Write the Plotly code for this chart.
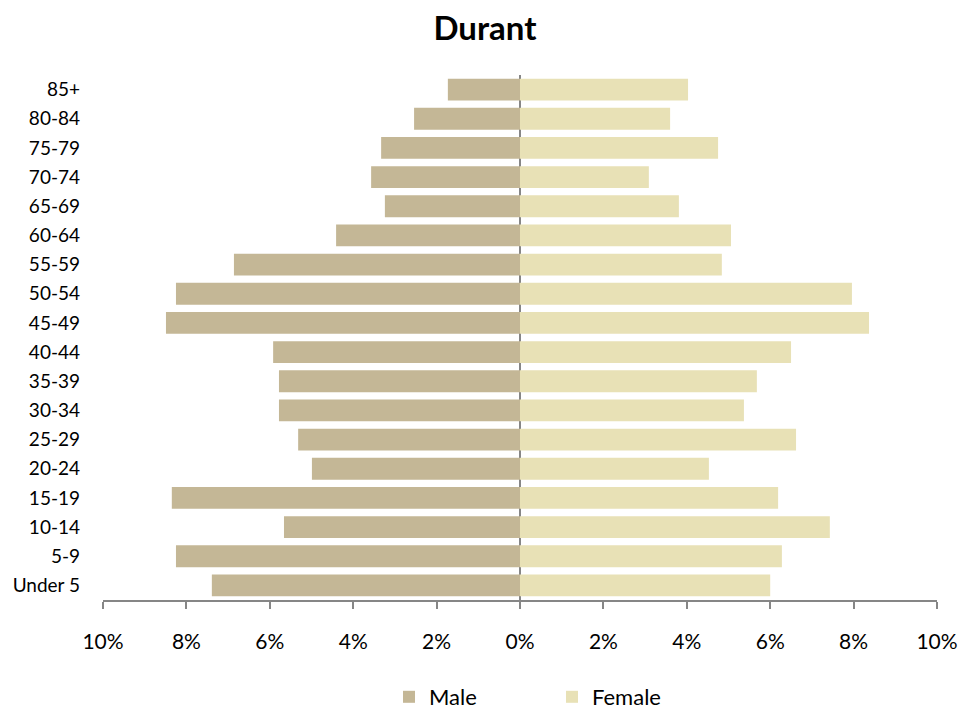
import plotly.graph_objects as go

age_groups = ["Under 5", "5-9", "10-14", "15-19", "20-24", "25-29", "30-34", "35-39",
              "40-44", "45-49", "50-54", "55-59", "60-64", "65-69", "70-74", "75-79",
              "80-84", "85+"]
male_pct = [7.39, 8.25, 5.66, 8.35, 4.99, 5.32, 5.78, 5.78, 5.92, 8.49, 8.25, 6.86,
            4.41, 3.24, 3.57, 3.33, 2.54, 1.73]
female_pct = [6.00, 6.28, 7.43, 6.19, 4.53, 6.62, 5.37, 5.68, 6.50, 8.37, 7.96, 4.84,
              5.06, 3.81, 3.09, 4.75, 3.60, 4.03]
tick_vals = [-10, -8, -6, -4, -2, 0, 2, 4, 6, 8, 10]
tick_text = ["10%", "8%", "6%", "4%", "2%", "0%", "2%", "4%", "6%", "8%", "10%"]

FONT = "Lato"
W, H = 971, 703

fig = go.Figure()
fig.add_trace(go.Bar(
    y=age_groups, x=[-v for v in male_pct], orientation="h", name="Male",
    marker=dict(color="#C4B796", line=dict(width=0)),
))
fig.add_trace(go.Bar(
    y=age_groups, x=female_pct, orientation="h", name="Female",
    marker=dict(color="#E8E1B6", line=dict(width=0)),
))

fig.update_layout(
    width=W, height=H,
    margin=dict(l=95, r=42, t=67, b=111, autoexpand=False),
    paper_bgcolor="white", plot_bgcolor="white",
    barmode="relative", bargap=0.25,
    font=dict(family=FONT, color="#000000", size=18),
    title=dict(text="<b>Durant</b>", xref="container", yref="container",
               x=477 / W, xanchor="center", y=1 - 20 / H, yanchor="middle",
               font=dict(family=FONT, size=33, color="#000000")),
    showlegend=True,
    legend=dict(orientation="h", xref="container", yref="container",
                x=544 / W, xanchor="center", y=(H - 689) / H, yanchor="middle",
                font=dict(family=FONT, size=22), entrywidth=118, entrywidthmode="pixels",
                itemsizing="constant", bgcolor="rgba(0,0,0,0)"),
    xaxis=dict(range=[-10, 10], tickvals=tick_vals, ticktext=tick_text,
               showgrid=False, zeroline=True, zerolinecolor="#868686", zerolinewidth=2,
               showline=True, linecolor="#868686", linewidth=2,
               ticks="outside", ticklen=7, tickcolor="#868686", tickwidth=2,
               ticklabelstandoff=15, tickfont=dict(family=FONT, size=21)),
    yaxis=dict(showgrid=False, zeroline=False, showline=False, ticks="",
               ticklabelstandoff=22, tickfont=dict(family=FONT, size=19)),
)

fig.write_html("out.html")
